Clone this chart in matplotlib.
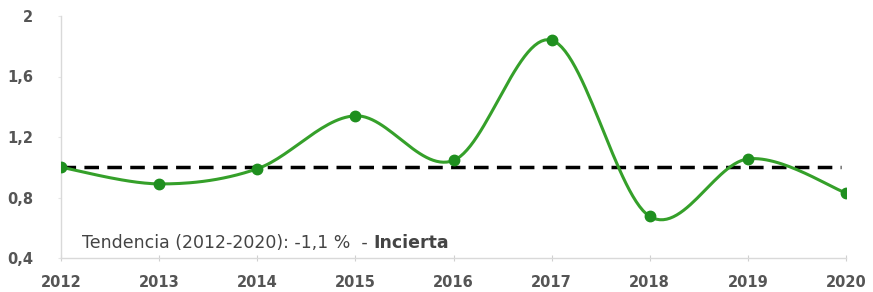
import numpy as np
import matplotlib
matplotlib.use("Agg")
import matplotlib.pyplot as plt

plt.rcParams["font.family"] = ["DejaVu Sans"]

years = [2012, 2013, 2014, 2015, 2016, 2017, 2018, 2019, 2020]
values = [1.00, 0.89, 0.99, 1.34, 1.045, 1.84, 0.675, 1.055, 0.83]
baseline = 1.0
yticks = [0.4, 0.8, 1.2, 1.6, 2.0]
ytick_labels = ["0,4", "0,8", "1,2", "1,6", "2"]
note_plain = "Tendencia (2012-2020): -1,1 %  - "
note_bold = "Incierta"


def smooth(xs, ys, n=30):
    xs = np.asarray(xs, float)
    ys = np.asarray(ys, float)
    px = np.concatenate([[xs[0]], xs, [xs[-1]]])
    py = np.concatenate([[ys[0]], ys, [ys[-1]]])
    ox, oy = [], []
    t = np.linspace(0, 1, n)
    for i in range(1, len(px) - 2):
        p0 = np.array([px[i], py[i]])
        p3 = np.array([px[i + 1], py[i + 1]])
        p1 = p0 + (np.array([px[i + 1], py[i + 1]]) - np.array([px[i - 1], py[i - 1]])) / 6
        p2 = p3 - (np.array([px[i + 2], py[i + 2]]) - np.array([px[i], py[i]])) / 6
        b = ((1 - t) ** 3)[:, None] * p0 + (3 * (1 - t) ** 2 * t)[:, None] * p1 + \
            (3 * (1 - t) * t ** 2)[:, None] * p2 + (t ** 3)[:, None] * p3
        ox.extend(b[:, 0])
        oy.extend(b[:, 1])
    return np.array(ox), np.array(oy)


fig = plt.figure(figsize=(8.73, 2.92), dpi=100)
ax = fig.add_axes([61 / 873, 1 - 258 / 292, (846 - 61) / 873, (258 - 16) / 292])

ax.plot([years[0], years[-1] - 0.05], [baseline, baseline], color="black", lw=2.5,
        dashes=(4.2, 2.4), zorder=2)
sx, sy = smooth(years, values)
ax.plot(sx, sy, color="#35a02a", lw=2.2, zorder=3)
ax.plot(years, values, "o", color="#1f8f1f", ms=7.5, zorder=4)

ax.set_xlim(2012, 2020)
ax.set_ylim(0.4, 2.0)
ax.set_xticks(years)
ax.set_xticklabels([str(y) for y in years])
ax.set_yticks(yticks)
ax.set_yticklabels(ytick_labels)
for s in ["top", "right"]:
    ax.spines[s].set_visible(False)
for s in ["left", "bottom"]:
    ax.spines[s].set_color("#d9d9d9")
    ax.spines[s].set_linewidth(1)
ax.tick_params(axis="x", colors="#d0d0d0", length=4, direction="inout", labelcolor="#555555",
               labelsize=10.5, pad=10)
ax.tick_params(axis="y", colors="#e6e6e6", length=2, direction="out", labelcolor="#555555",
               labelsize=10.5, pad=18)
for lab in ax.get_xticklabels() + ax.get_yticklabels():
    lab.set_fontweight("bold")
    lab.set_clip_on(False)

t1 = ax.text(82 / 873, 1 - 243 / 292, note_plain, transform=fig.transFigure,
             fontsize=12.5, color="#444444", va="center", ha="left")
fig.canvas.draw()
bb = t1.get_window_extent()
ax.text(bb.x1 / fig.bbox.width, 1 - 243 / 292, note_bold, transform=fig.transFigure,
        fontsize=12.5, color="#444444", va="center", ha="left", fontweight="bold")

fig.savefig("out.png", dpi=100)
